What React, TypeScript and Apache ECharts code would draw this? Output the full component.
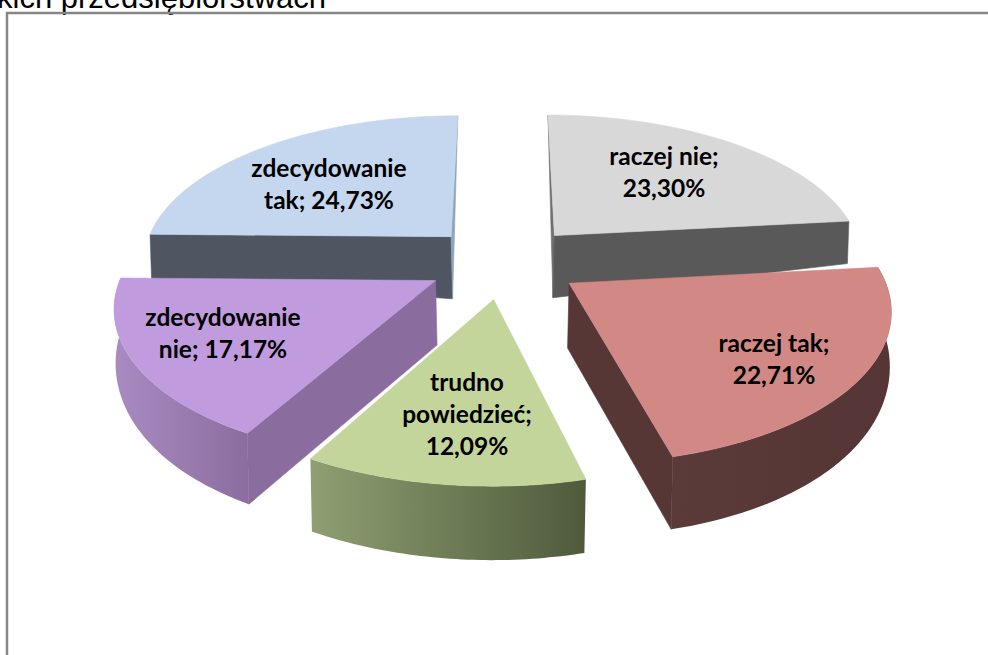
import React, { useEffect, useRef } from "react";
import * as echarts from "echarts";

// Data, clockwise from 12 o'clock
const values = [23.3, 22.71, 12.09, 17.17, 24.73];
const labelTexts = ["raczej nie;\n", "raczej tak;\n", "trudno\npowiedzieć;\n", "zdecydowanie\nnie; ", "zdecydowanie\ntak; "];
const titleFragment = "kich przedsiębiorstwach";

// Styles
const topColors = ["#d8d8d8", "#d28885", "#c3d59b", "#c09bdd", "#c5d7ef"];
const outerWallFrom = ["#595959", "#5b3b39", "#8f9f73", "#a98bc2", "#4f5661"];
const outerWallTo = ["#595959", "#553535", "#4f5a3b", "#8b6d9f", "#4f5661"];
const startWalls = ["#707070", "#563535", "#6b7a52", "#8a6c9e", "#4f5661"];
const endWalls = ["#595959", "#573636", "#6b7a52", "#8a6c9e", "#8fa3bd"];
// which faces of each slice face the viewer: 0 hidden, 1 full wall, 2 thin wedge
const outerFaces = [0, 1, 1, 1, 0];
const startFaces = [2, 0, 0, 1, 1];
const endFaces = [1, 1, 0, 0, 2];
const drawOrder = [0, 4, 3, 1, 2];

// Layout of the perspective projection
const X0 = 504, Y0 = 262, RX = 310, RY = 146, P = 0.15, EXPLODE = 0.25;
const labelCenters = [[664, 171], [774, 358], [467, 413], [223, 332], [329, 183]];

const total = values.reduce((a, b) => a + b, 0);
const angles: number[] = [];
values.reduce((acc, v) => { angles.push(acc); return acc + v; }, 0);
const toRad = (share: number) => (share / total) * Math.PI * 2;

function project(u: number, v: number) {
  const w = 1 - P * v;
  return [X0 + (RX * u) / w, Y0 + (RY * v) / w];
}
function lower(u: number, v: number) {
  const [x, y] = project(u, v);
  const h = 64 + 8 * v - 11.5 * u * u * (1 - 0.8 * v);
  const dx = -1.5 * Math.max(-1, Math.min(1, (x - X0) / 50));
  return [x + dx, y + h];
}

function renderItem(_params: any, api: any) {
  const i = api.value(0);
  const a0 = toRad(angles[i]);
  const a1 = toRad(angles[i] + values[i]);
  const mid = (a0 + a1) / 2;
  const cu = EXPLODE * Math.sin(mid), cv = -EXPLODE * Math.cos(mid);
  const rim: number[][] = [];
  const steps = 48;
  for (let s = 0; s <= steps; s++) {
    const a = a0 + ((a1 - a0) * s) / steps;
    rim.push([cu + Math.sin(a), cv - Math.cos(a)]);
  }
  const topPts = rim.map(([u, v]) => project(u, v));
  const botPts = rim.map(([u, v]) => lower(u, v));
  const apexT = project(cu, cv), apexB = lower(cu, cv);
  const grad = new echarts.graphic.LinearGradient(0, 0, 1, 0, [
    { offset: 0, color: outerWallFrom[i] },
    { offset: 1, color: outerWallTo[i] },
  ]);
  const poly = (points: number[][], fill: any, stroke?: string) => ({
    type: "polygon",
    shape: { points },
    style: { fill, stroke: stroke || "none", lineWidth: stroke ? 0.6 : 0 },
  });
  const wall = (mode: number, rimTop: number[], rimBot: number[], color: string) =>
    mode === 2
      ? [poly([apexT, rimTop, apexB], color, color)]
      : mode === 1
      ? [poly([apexT, rimTop, rimBot, apexB], color, color)]
      : [];
  const [lx, ly] = labelCenters[i];
  return {
    type: "group",
    children: [
      ...(outerFaces[i] ? [poly([...topPts, ...botPts.slice().reverse()], grad)] : []),
      ...wall(startFaces[i], topPts[0], botPts[0], startWalls[i]),
      ...wall(endFaces[i], topPts[steps], botPts[steps], endWalls[i]),
      poly([apexT, ...topPts], topColors[i], topColors[i]),
      {
        type: "text",
        style: {
          x: lx,
          y: ly,
          text: labelTexts[i] + values[i].toFixed(2).replace(".", ",") + "%",
          fill: "#000",
          font: "bold 24.5px Lato",
          lineHeight: 32,
          align: "center",
          verticalAlign: "middle",
        },
      },
    ],
  };
}

export default function App() {
  const ref = useRef<HTMLDivElement>(null);
  useEffect(() => {
    const chart = echarts.init(ref.current!, undefined, { renderer: "svg" });
    chart.setOption({
      animation: false,
      backgroundColor: "#fff",
      graphic: [
        {
          type: "text",
          x: -3,
          y: -3,
          style: {
            text: titleFragment,
            font: '31px "Liberation Sans"',
            fill: "#000",
            verticalAlign: "middle",
          },
        },
        {
          type: "rect",
          shape: { x: 7, y: 13, width: 1020, height: 700 },
          style: { fill: "none", stroke: "#868686", lineWidth: 2.5 },
        },
      ],
      series: [
        {
          type: "custom",
          coordinateSystem: "none",
          renderItem,
          data: drawOrder.map((i) => [i, values[i]]),
        },
      ],
    });
    return () => chart.dispose();
  }, []);
  return <div ref={ref} style={{ position: "fixed", left: 0, top: 0, width: 988, height: 655 }} />;
}
